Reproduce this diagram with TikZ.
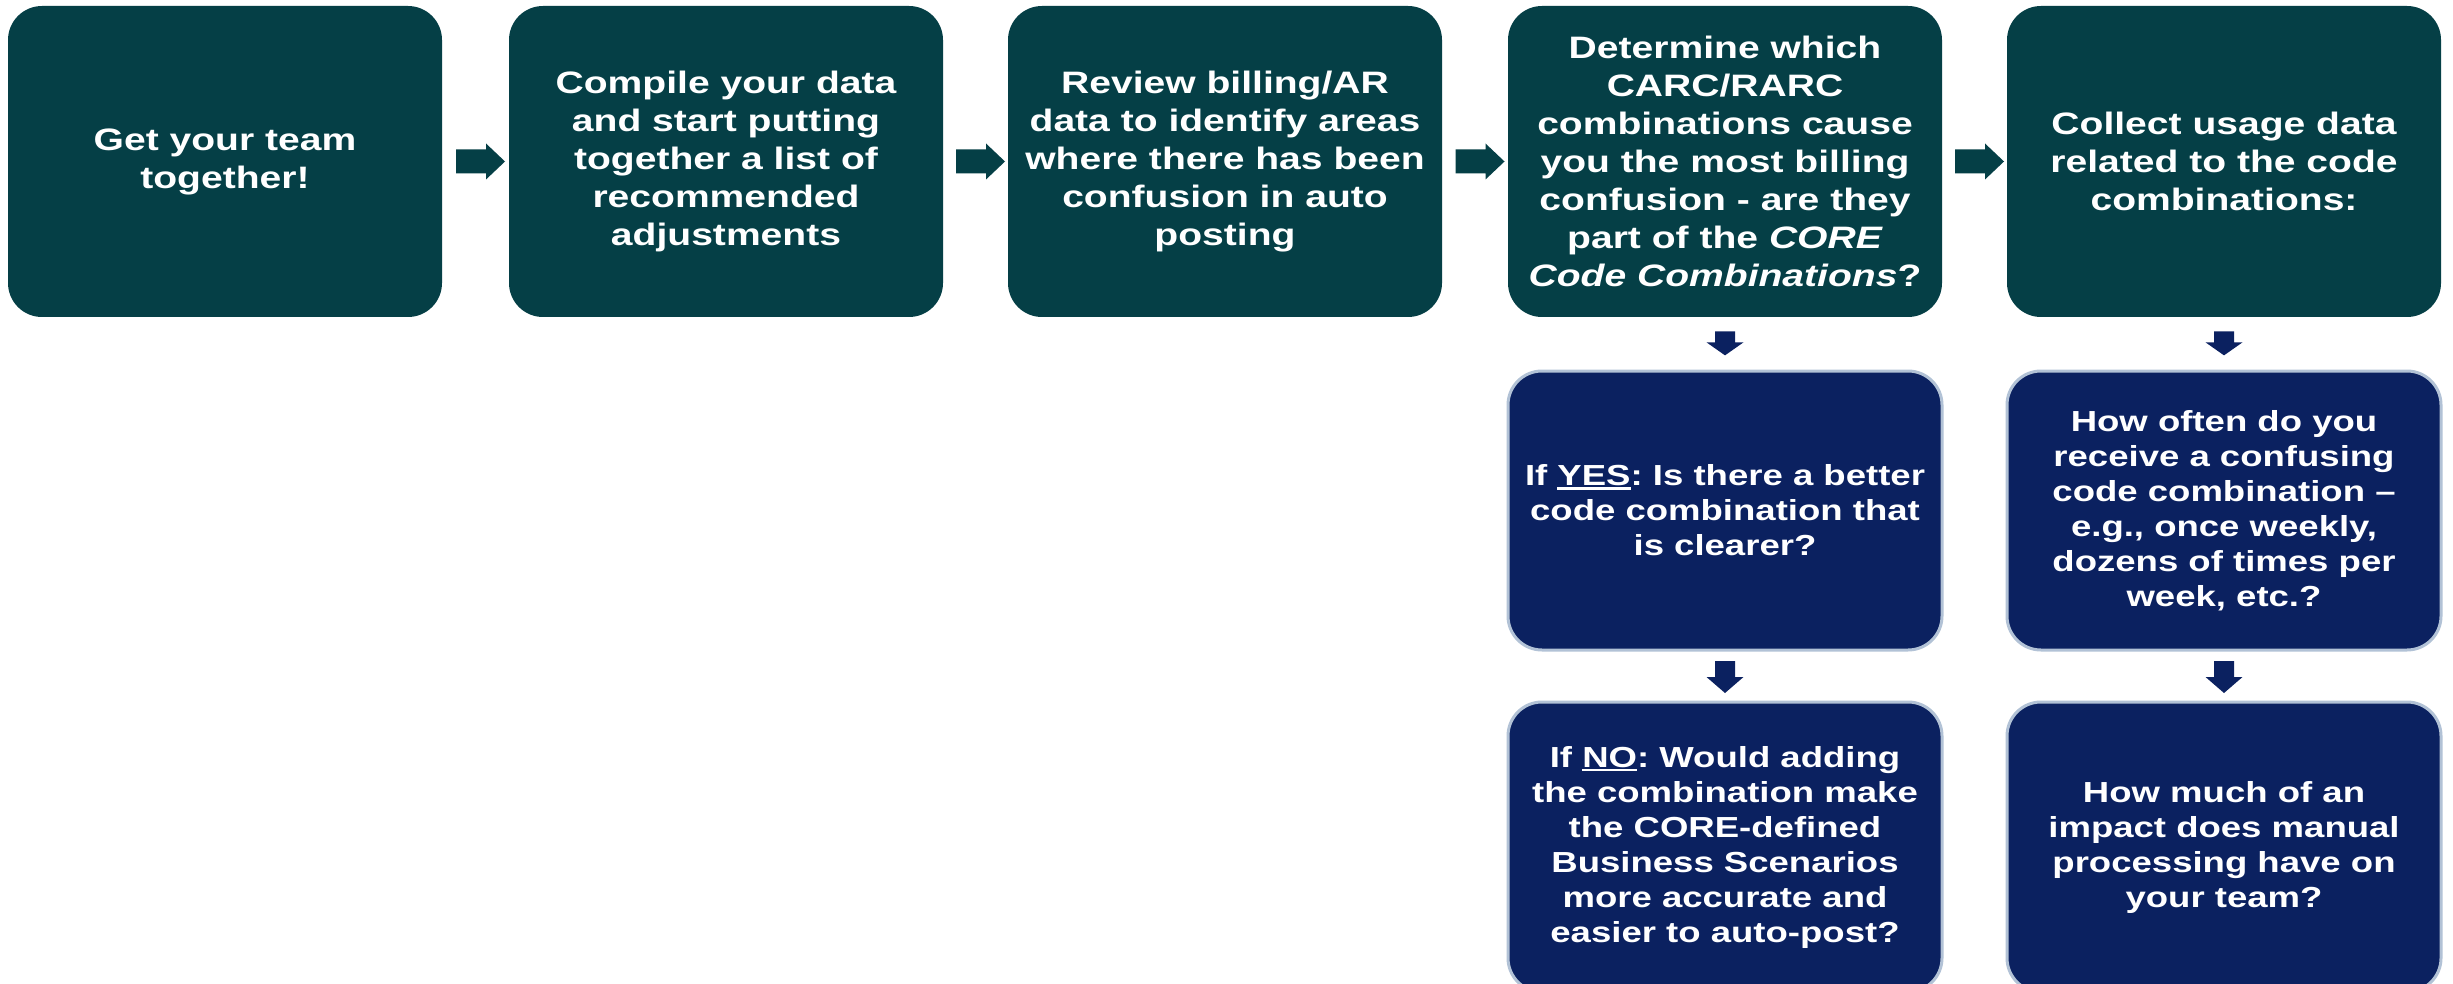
\documentclass[tikz,border=0pt]{standalone}
\usepackage{fontspec}
\usetikzlibrary{calc}
\newfontfamily\bxfont[FakeStretch=1.26]{Liberation Sans}
\definecolor{tealbox}{RGB}{5,63,70}
\definecolor{navybox}{RGB}{11,33,96}
\definecolor{glow}{RGB}{178,194,214}
\frenchspacing
\newcommand\ulx[1]{\setbox0\hbox{#1}\rlap{\rule[-4pt]{\wd0}{2.5pt}}\box0}
\newcommand\rarrow[1]{\fill[tealbox] ($(#1)+(-24.5,-12)$) -- ++(30,0) -- ++(0,-6) -- ++(19,18) -- ++(-19,18) -- ++(0,-6) -- ++(-30,0) -- cycle;}
\newcommand\darrow[3]{\fill[navybox] ($(#1)+(-10,-#2)$) -- ++(0,#3) -- ++(-8.5,0) -- ++(18.5,2*#2-#3) -- ++(18.5,-2*#2+#3) -- ++(-8.5,0) -- ++(0,-#3) -- cycle;}
\tikzset{
  boxbase/.style={rectangle, rounded corners=34pt, minimum width=434pt,
    align=center, text=white, inner sep=0pt,
    font=\bxfont\bfseries\fontsize{31}{38}\selectfont\frenchspacing},
  topbox/.style={boxbase, fill=tealbox, minimum height=311pt},
  navybase/.style={boxbase, fill=navybox, draw=glow, line width=3pt,
    font=\bxfont\bfseries\fontsize{29}{35}\selectfont\frenchspacing},
  midbox/.style={navybase, minimum height=279pt},
  lowbox/.style={navybase, minimum height=290pt}
}
\begin{document}
\begin{tikzpicture}[x=1pt,y=-1pt]
\fill[white] (0,0) rectangle (2453,984);
\useasboundingbox (0,0) rectangle (2453,984);

\node[topbox] (b1) at (225,161.5) {Get your team\\together!};
\node[topbox] (b2) at (726,161.5) {Compile your data\\and start putting\\together a list of\\recommended\\adjustments};
\node[topbox] (b3) at (1225,161.5) {Review billing/AR\\data to identify areas\\where there has been\\confusion in auto\\posting};
\node[topbox] (b4) at (1725,161.5) {Determine which\\CARC/RARC\\combinations cause\\you the most billing\\confusion - are they\\part of the \textit{CORE}\\\textit{Code Combinations}?};
\node[topbox] (b5) at (2224,161.5) {Collect usage data\\related to the code\\combinations:};

\node[midbox] (m4) at (1725,510.5) {If \ulx{YES}: Is there a better\\code combination that\\is clearer?};
\node[midbox] (m5) at (2224,510.5) {How often do you\\receive a confusing\\code combination –\\e.g., once weekly,\\dozens of times per\\week, etc.?};

\node[lowbox] (l4) at (1725,847) {If \ulx{NO}: Would adding\\the combination make\\the CORE-defined\\Business Scenarios\\more accurate and\\easier to auto-post?};
\node[lowbox] (l5) at (2224,847) {How much of an\\impact does manual\\processing have on\\your team?};

\coordinate (a12) at ($($(b1.east)!0.5!(b2.west)$)+(5,0)$);
\coordinate (a23) at ($($(b2.east)!0.5!(b3.west)$)+(5,0)$);
\coordinate (a34) at ($($(b3.east)!0.5!(b4.west)$)+(5,0)$);
\coordinate (a45) at ($($(b4.east)!0.5!(b5.west)$)+(5,0)$);
\rarrow{a12}
\rarrow{a23}
\rarrow{a34}
\rarrow{a45}

\coordinate (d4a) at ($(b4.south)!0.5!(m4.north)$);
\coordinate (d5a) at ($(b5.south)!0.5!(m5.north)$);
\coordinate (d4b) at ($($(m4.south)!0.5!(l4.north)$)+(0,1)$);
\coordinate (d5b) at ($($(m5.south)!0.5!(l5.north)$)+(0,1)$);
\darrow{d4a}{12}{11}
\darrow{d5a}{12}{11}
\darrow{d4b}{16}{16}
\darrow{d5b}{16}{16}
\end{tikzpicture}
\end{document}
